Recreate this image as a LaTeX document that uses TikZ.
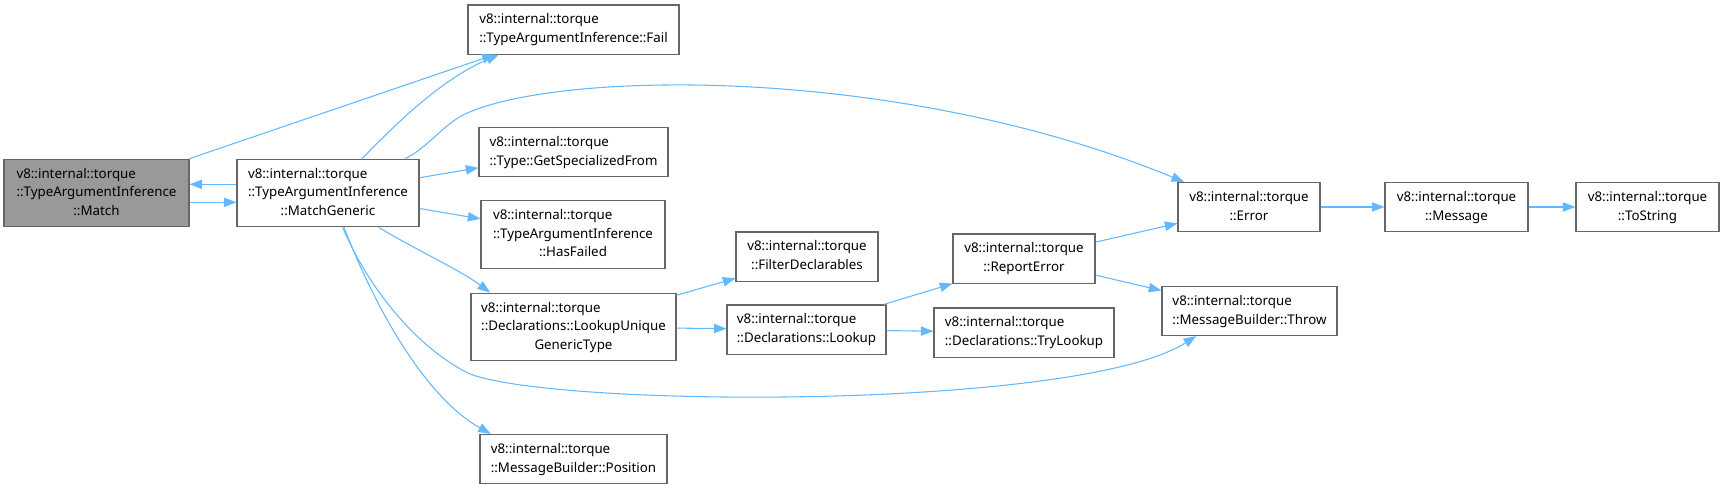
\documentclass[tikz,border=0pt]{standalone}
\usepackage{fontspec}
\setmainfont{Noto Sans}
\usepackage{tikz}
\usetikzlibrary{arrows.meta}
\definecolor{edgeblue}{HTML}{63B8FF}
\definecolor{boxline}{HTML}{666666}
\definecolor{selgray}{HTML}{999999}
\newcommand{\fnlines}[2]{\begin{tabular}{@{}l@{}}#1\\\multicolumn{1}{@{}c@{}}{#2}\end{tabular}}

\begin{document}
\begin{tikzpicture}[
  x=0.75pt, y=0.75pt,
  func/.style={draw=boxline, line width=0.8pt, fill=white, inner xsep=5pt,
               inner ysep=4.4pt, font=\fontsize{10}{14}\selectfont},
  boxw/.style={minimum width=#1*0.75pt},
  call/.style={edgeblue, line width=0.8pt, -{Triangle[length=9.5pt, width=7pt]}},
]
\useasboundingbox (0,0) rectangle (1723,-489);

\node[func, boxw=185, fill=selgray] (match) at (96.5,-193)
  {\fnlines{v8::internal::torque\\::TypeArgumentInference}{::Match}};
\node[func, boxw=182] (mg) at (328,-193)
  {\fnlines{v8::internal::torque\\::TypeArgumentInference}{::MatchGeneric}};
\node[func, boxw=211] (fail) at (573.5,-29.5)
  {\fnlines{v8::internal::torque}{::TypeArgumentInference::Fail}};
\node[func, boxw=189] (gsf) at (573.5,-152)
  {\fnlines{v8::internal::torque}{::Type::GetSpecializedFrom}};
\node[func, boxw=184] (hasf) at (573,-234.5)
  {\fnlines{v8::internal::torque\\::TypeArgumentInference}{::HasFailed}};
\node[func, boxw=205] (luq) at (573.5,-327)
  {\fnlines{v8::internal::torque\\::Declarations::LookupUnique}{GenericType}};
\node[func, boxw=187] (pos) at (573.5,-459)
  {\fnlines{v8::internal::torque}{::MessageBuilder::Position}};
\node[func, boxw=142] (filt) at (807,-256.5)
  {\fnlines{v8::internal::torque}{::FilterDeclarables}};
\node[func, boxw=159] (lookup) at (806.5,-329.5)
  {\fnlines{v8::internal::torque}{::Declarations::Lookup}};
\node[func, boxw=142] (report) at (1024,-258.5)
  {\fnlines{v8::internal::torque}{::ReportError}};
\node[func, boxw=180] (trylk) at (1024,-332.5)
  {\fnlines{v8::internal::torque}{::Declarations::TryLookup}};
\node[func, boxw=142] (err) at (1249,-207)
  {\fnlines{v8::internal::torque}{::Error}};
\node[func, boxw=143] (msg) at (1456.5,-207)
  {\fnlines{v8::internal::torque}{::Message}};
\node[func, boxw=143] (tostr) at (1647.5,-207)
  {\fnlines{v8::internal::torque}{::ToString}};
\node[func, boxw=175] (throw) at (1249.5,-311)
  {\fnlines{v8::internal::torque}{::MessageBuilder::Throw}};

% calls out of Match
\draw[call] (match.north east) -- ([xshift=-59pt]fail.south);
\draw[call] ([yshift=-7pt]match.east) -- ([yshift=-7pt]mg.west);

% calls out of MatchGeneric
\draw[call] ([yshift=6.5pt]mg.west) -- ([yshift=6.5pt]match.east);
\draw[call] ([xshift=25.5pt]mg.north) .. controls (395,-125) and (440,-80) .. ([xshift=-56pt]fail.south);
\draw[call] ([xshift=57.75pt]mg.north) .. controls (425,-150) and (444,-124) .. (465,-114)
  .. controls (560,-70) and (900,-65) .. ([xshift=5pt]err.north west);
\draw[call] (mg) -- (gsf);
\draw[call] (mg) -- (hasf);
\draw[call] ([xshift=38pt]mg.south) .. controls (420,-252) and (460,-270) .. ([xshift=-62.5pt]luq.north);
\draw[call] ([xshift=12pt]mg.south) .. controls (380,-320) and (430,-400) .. ([xshift=-62pt]pos.north);
\draw[call] ([xshift=11pt]mg.south) .. controls (370,-292) and (420,-350) .. (470,-374)
  .. controls (560,-408) and (1080,-410) .. ([xshift=-40pt]throw.south);

% lookup chain
\draw[call] ([yshift=-2pt]luq.north east) -- ([yshift=2.5pt]filt.south west);
\draw[call] (luq) -- (lookup);
\draw[call] ([xshift=-2pt]lookup.north east) -- (report.south west);
\draw[call] (lookup) -- (trylk);
\draw[call] (report) -- (err);
\draw[call] (report) -- (throw);
\draw[call] (err) -- (msg);
\draw[call] (msg) -- (tostr);

\end{tikzpicture}
\end{document}
